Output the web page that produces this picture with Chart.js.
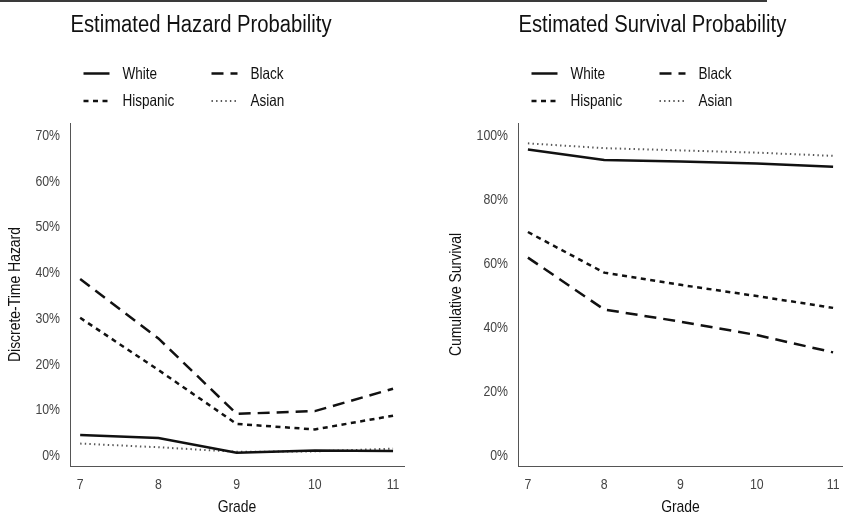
<!DOCTYPE html>
<html>
<head>
<meta charset="utf-8">
<script src="https://cdn.jsdelivr.net/npm/chart.js@4"></script>
<style>
  html, body { margin: 0; padding: 0; background: #fff; }
  #wrap { position: relative; width: 843px; height: 516px; overflow: hidden; }
  .topRule { position: absolute; left: 0; top: 0; width: 767px; height: 2px; background: #3a3a3a; z-index: 2; }
  canvas { position: absolute; top: 0; }
</style>
</head>
<body>
<div id="wrap">
  <div class="topRule"></div>
  <canvas id="hazard" width="421" height="516" style="left:0"></canvas>
  <canvas id="survival" width="450" height="516" style="left:421px"></canvas>
</div>
<script>
// Grades and group names
const grades = [7, 8, 9, 10, 11];
const groups = ['White', 'Black', 'Hispanic', 'Asian'];

// Estimated discrete-time hazard by grade
const hazardWhite    = [0.046, 0.039, 0.007, 0.012, 0.011];
const hazardBlack    = [0.387, 0.257, 0.092, 0.098, 0.147];
const hazardHispanic = [0.302, 0.188, 0.070, 0.058, 0.088];
const hazardAsian    = [0.027, 0.019, 0.009, 0.010, 0.016];

// Estimated cumulative survival by grade
const survivalWhite    = [0.958, 0.925, 0.920, 0.914, 0.904];
const survivalBlack    = [0.620, 0.458, 0.420, 0.378, 0.324];
const survivalHispanic = [0.700, 0.573, 0.535, 0.500, 0.463];
const survivalAsian    = [0.977, 0.962, 0.955, 0.948, 0.938];

// Tick values
const hazardTicks   = [0, 0.1, 0.2, 0.3, 0.4, 0.5, 0.6, 0.7];
const survivalTicks = [0, 0.2, 0.4, 0.6, 0.8, 1.0];

const FONT = '"Liberation Sans", Arial, sans-serif';
const NARROW = 0.82;   // horizontal squeeze for a narrow sans look

// Line style per group
const lineStyle = {
  White:    { borderColor: '#111', borderWidth: 2.5, borderDash: [] },
  Black:    { borderColor: '#111', borderWidth: 2.5, borderDash: [12, 7] },
  Hispanic: { borderColor: '#111', borderWidth: 2.5, borderDash: [5, 4.5] },
  Asian:    { borderColor: '#555', borderWidth: 2,   borderDash: [1.4, 3.2] }
};

// Draws condensed text at (x, y), optionally rotated
function narrowText(ctx, text, x, y, size, color, align, baseline, rot) {
  ctx.save();
  ctx.translate(x, y);
  if (rot) ctx.rotate(rot);
  ctx.scale(NARROW, 1);
  ctx.font = size + 'px ' + FONT;
  ctx.fillStyle = color;
  ctx.textAlign = align;
  ctx.textBaseline = baseline;
  ctx.fillText(text, 0, 0);
  ctx.restore();
}

// Tick labels and axis titles, positioned from the chart's own scales
const axisText = {
  id: 'axisText',
  afterDraw(chart, args, opts) {
    const ctx = chart.ctx;
    const xs = chart.scales.x, ys = chart.scales.y;
    const area = chart.chartArea;
    xs.ticks.forEach(t => {
      narrowText(ctx, String(t.value), xs.getPixelForValue(t.value), area.bottom + 19,
                 15, '#444', 'center', 'middle');
    });
    ys.ticks.forEach(t => {
      narrowText(ctx, Math.round(t.value * 100) + '%', area.left - 10, ys.getPixelForValue(t.value),
                 15, '#444', 'right', 'middle');
    });
    narrowText(ctx, opts.xTitle, (area.left + area.right) / 2, 507.3, 17, '#111', 'center', 'middle');
    narrowText(ctx, opts.yTitle, opts.yTitleX, (area.top + area.bottom) / 2, 17, '#111',
               'center', 'middle', -Math.PI / 2);
  }
};

// Panel title and 2x2 legend, placed relative to the plot area
const panelHeader = {
  id: 'panelHeader',
  afterDraw(chart, args, opts) {
    const ctx = chart.ctx;
    const L = chart.chartArea.left;
    narrowText(ctx, opts.text, L + 0.5, 31.5, 24.7, '#111', 'left', 'alphabetic');
    const cols = [13.5, 141.5];
    const rows = [73.5, 101];
    chart.data.datasets.forEach((ds, i) => {
      const x = L + cols[i % 2];
      const y = rows[Math.floor(i / 2)];
      ctx.save();
      ctx.beginPath();
      ctx.setLineDash(ds.borderDash || []);
      ctx.lineWidth = ds.borderWidth;
      ctx.strokeStyle = ds.borderColor;
      ctx.lineCap = 'butt';
      ctx.moveTo(x, y);
      ctx.lineTo(x + 26, y);
      ctx.stroke();
      ctx.restore();
      narrowText(ctx, ds.label, x + 39, y + 0.5, 16.5, '#111', 'left', 'middle');
    });
  }
};

function makePanel(id, title, series, yTitle, yMin, yMax, yTicks, opt) {
  const datasets = groups.map((g, i) => Object.assign({
    label: g,
    data: grades.map((x, j) => ({ x: x, y: series[i][j] })),
    pointRadius: 0,
    tension: 0,
    fill: false,
    borderCapStyle: 'butt'
  }, lineStyle[g]));

  return new Chart(document.getElementById(id), {
    type: 'line',
    data: { datasets: datasets },
    plugins: [axisText, panelHeader],
    options: {
      responsive: false,
      devicePixelRatio: 1,
      animation: false,
      events: [],
      layout: { padding: { top: 123, left: 0, right: opt.padRight, bottom: 0 } },
      plugins: {
        legend: { display: false },
        tooltip: { enabled: false },
        panelHeader: { text: title },
        axisText: { xTitle: 'Grade', yTitle: yTitle, yTitleX: opt.yTitleX }
      },
      scales: {
        x: {
          type: 'linear',
          min: 6.87,
          max: opt.xMax,
          afterBuildTicks: s => { s.ticks = grades.map(v => ({ value: v })); },
          afterFit: s => { s.height = 50; },
          grid: { display: false, drawTicks: false },
          border: { display: true, color: '#555', width: 1 },
          ticks: { display: false }
        },
        y: {
          min: yMin,
          max: yMax,
          afterBuildTicks: s => { s.ticks = yTicks.map(v => ({ value: v })); },
          afterFit: s => { s.width = opt.yWidth; },
          grid: { display: false, drawTicks: false },
          border: { display: true, color: '#555', width: 1 },
          ticks: { display: false }
        }
      }
    }
  });
}

makePanel('hazard', 'Estimated Hazard Probability',
  [hazardWhite, hazardBlack, hazardHispanic, hazardAsian],
  'Discrete-Time Hazard', -0.022, 0.728, hazardTicks,
  { padRight: 17, yWidth: 70, yTitleX: 15.5, xMax: 11.14 });

makePanel('survival', 'Estimated Survival Probability',
  [survivalWhite, survivalBlack, survivalHispanic, survivalAsian],
  'Cumulative Survival', -0.031, 1.0406, survivalTicks,
  { padRight: 28, yWidth: 97, yTitleX: 35.7, xMax: 11.13 });
</script>
</body>
</html>
